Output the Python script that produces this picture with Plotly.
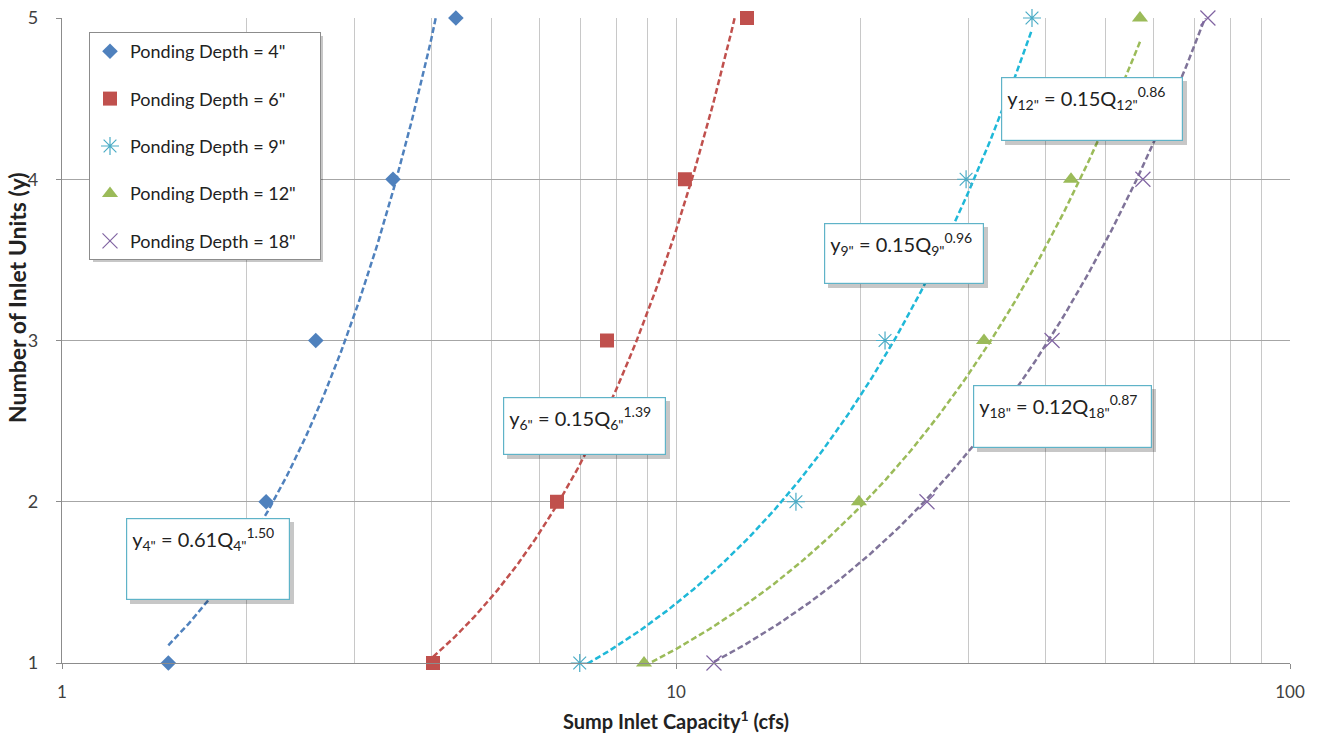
import numpy as np
import plotly.graph_objects as go

# ---- data ----
units = [1, 2, 3, 4, 5]
q_4in = [1.49, 2.15, 2.59, 3.46, 4.38]
q_6in = [4.02, 6.40, 7.72, 10.34, 13.05]
q_9in = [6.97, 15.68, 21.90, 29.68, 38.0]
q_12in = [8.87, 19.86, 31.74, 43.99, 56.97]
q_18in = [11.53, 25.63, 40.97, 57.6, 73.5]

names = ['Ponding Depth = 4"', 'Ponding Depth = 6"', 'Ponding Depth = 9"',
         'Ponding Depth = 12"', 'Ponding Depth = 18"']
# power-law fit coefficients shown on the chart: y = a * Q^b
fit_a = [0.61, 0.15, 0.15, 0.15, 0.12]
fit_b = [1.50, 1.39, 0.96, 0.86, 0.87]
eq_labels = [
    'y<sub>4"</sub> = 0.61Q<sub>4"</sub><sup>1.50</sup>',
    'y<sub>6"</sub> = 0.15Q<sub>6"</sub><sup>1.39</sup>',
    'y<sub>9"</sub> = 0.15Q<sub>9"</sub><sup>0.96</sup>',
    'y<sub>12"</sub> = 0.15Q<sub>12"</sub><sup>0.86</sup>',
    'y<sub>18"</sub> = 0.12Q<sub>18"</sub><sup>0.87</sup>',
]
x_ticks = [1, 10, 100]
y_ticks = [1, 2, 3, 4, 5]
x_title = "<b>Sump Inlet Capacity<sup>1</sup> (cfs)</b>"
y_title = "<b>Number of Inlet Units (y)</b>"

# ---- styles ----
marker_colors = ["#4F81BD", "#C0504D", "#4BACC6", "#9BBB59", "#8064A2"]
line_colors = ["#4F81BD", "#C0504D", "#1FB8D8", "#9BBB59", "#7F7399"]
symbols = ["diamond", "square", "asterisk-open", "triangle-up", "x-thin-open"]
sizes = [12, 14, 15, 14, 15]

series = [q_4in, q_6in, q_9in, q_12in, q_18in]
FONT = "Lato, 'Open Sans', sans-serif"
LEGEND_PAD = "\u00a0" * 4  # widens the legend box (invisible)

fig = go.Figure()

# trend lines (clipped to plot area)
for q, a, b, lc in zip(series, fit_a, fit_b, line_colors):
    qq = np.logspace(np.log10(min(q)), np.log10(max(q)), 200)
    fig.add_trace(go.Scatter(x=qq, y=a * qq ** b, mode="lines",
                             line=dict(color=lc, width=2.5, dash="6px,3px"),
                             showlegend=False, hoverinfo="skip"))

# markers
for i, (q, nm, mc, sym, sz) in enumerate(zip(series, names, marker_colors, symbols, sizes)):
    mk = dict(color=mc, symbol=sym, size=sz)
    if "open" in sym:
        mk["line"] = dict(color=mc, width=1.2)
    fig.add_trace(go.Scatter(x=q, y=units, mode="markers", name=nm + LEGEND_PAD, marker=mk,
                             cliponaxis=False, legendgroup="g%d" % i))

# plot area in pixels
L, R, T, B = 62, 1290, 18, 663
W, H = R - L, B - T


def px(xp):
    return (xp - L) / W


def py(yp):
    return (B - yp) / H


SHADOW = "rgba(0,0,0,0.22)"
shapes = []
annotations = []

# equation boxes: (left, top, width, height) in pixels
eq_boxes = [(126, 518, 164, 82), (503, 397, 163, 58), (824, 223, 160, 61),
            (1001, 77, 182, 64), (973, 385, 179, 63)]
for lab, (bx, by, bw, bh) in zip(eq_labels, eq_boxes):
    shapes.append(dict(type="rect", xref="paper", yref="paper",
                       x0=px(bx + 4), x1=px(bx + bw + 4), y0=py(by + bh + 4), y1=py(by + 4),
                       line=dict(width=0), fillcolor=SHADOW, layer="above"))
    annotations.append(dict(xref="paper", yref="paper", x=px(bx), y=py(by),
                            xanchor="left", yanchor="top", text=lab, showarrow=False,
                            width=bw - 12, height=bh - 12, align="left", valign="top",
                            bgcolor="white", bordercolor="#5FB3C8", borderwidth=1.2,
                            borderpad=5, font=dict(family=FONT, size=20, color="#222222")))

# y-axis title as rotated annotation
annotations.append(dict(xref="paper", yref="paper", x=px(17), y=py(298),
                        xanchor="center", yanchor="middle", text=y_title, showarrow=False,
                        textangle=-90, font=dict(family=FONT, size=23, color="#222222")))

# legend shadow
shapes.append(dict(type="rect", xref="paper", yref="paper",
                   x0=px(93), x1=px(323), y0=py(262), y1=py(36),
                   line=dict(width=0), fillcolor=SHADOW, layer="above"))

fig.update_layout(
    width=1319, height=733,
    margin=dict(l=L, r=1319 - R, t=T, b=733 - B),
    paper_bgcolor="white", plot_bgcolor="white",
    font=dict(family=FONT, size=15, color="#404040"),
    shapes=shapes, annotations=annotations,
    legend=dict(x=px(89), y=py(32), xanchor="left", yanchor="top",
                bgcolor="white", bordercolor="#8C8C8C", borderwidth=1,
                font=dict(family=FONT, size=18, color="#222222"),
                traceorder="grouped", tracegroupgap=21, itemwidth=30),
    showlegend=True,
)

fig.update_xaxes(type="log", range=[0, 2], tickvals=x_ticks, ticktext=[str(v) for v in x_ticks],
                 showgrid=True, gridcolor="#C8C8C8", gridwidth=1,
                 minor=dict(showgrid=True, gridcolor="#C8C8C8", gridwidth=1,
                            dtick="D1"),
                 showline=True, linecolor="#8C8C8C", linewidth=1.2,
                 ticks="outside", ticklen=5, tickcolor="#8C8C8C",
                 ticklabelstandoff=8, automargin=False,
                 tickfont=dict(family=FONT, size=17, color="#404040"),
                 title=dict(text=x_title, standoff=16,
                            font=dict(family=FONT, size=20, color="#222222")),
                 zeroline=False)
fig.update_yaxes(range=[1, 5], tickvals=y_ticks, showgrid=True, gridcolor="#A6A6A6", gridwidth=1,
                 showline=True, linecolor="#8C8C8C", linewidth=1.2,
                 ticks="outside", ticklen=5, tickcolor="#8C8C8C",
                 ticklabelstandoff=14, automargin=False,
                 tickfont=dict(family=FONT, size=18, color="#404040"),
                 zeroline=False)

fig.write_html("out.html")
